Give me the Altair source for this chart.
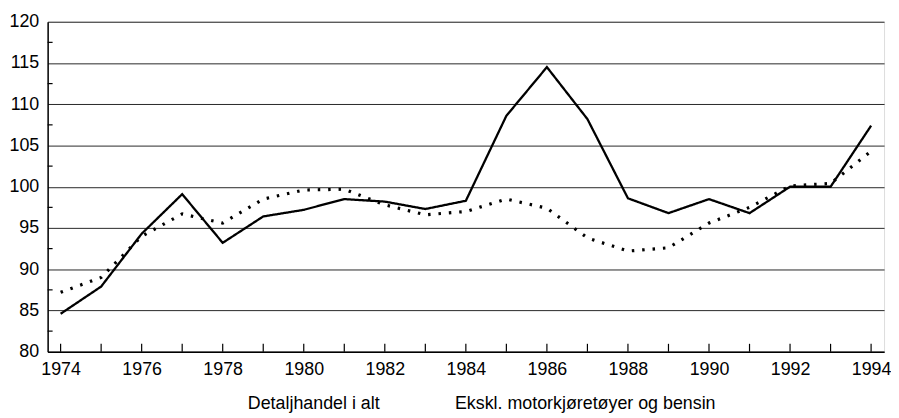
import altair as alt
import pandas as pd

years = list(range(1974, 1995))
series_names = ["Detaljhandel i alt", "Ekskl. motorkjøretøyer og bensin"]
total = [84.6, 87.9, 94.3, 99.1, 93.2, 96.4, 97.2, 98.5, 98.2, 97.3, 98.3,
         108.6, 114.5, 108.2, 98.6, 96.8, 98.5, 96.8, 100.0, 100.0, 107.4]
excl = [87.2, 89.0, 94.0, 96.7, 95.6, 98.5, 99.6, 99.7, 97.8, 96.6, 97.0,
        98.5, 97.4, 93.8, 92.2, 92.6, 95.6, 97.5, 100.1, 100.4, 104.3]
y_major = [80, 85, 90, 95, 100, 105, 110, 115, 120]
y_minor = [82.5, 87.5, 92.5, 97.5, 102.5, 107.5, 112.5, 117.5]
x_labels = list(range(1974, 1995, 2))

df = pd.DataFrame({
    "year": years * 2,
    "value": total + excl,
    "series": [series_names[0]] * len(years) + [series_names[1]] * len(years),
})

FONT = "Liberation Sans Narrow, Liberation Sans, Arial, sans-serif"
FS = 18
xscale = alt.Scale(domain=[1973.68, 1994.32], nice=False, zero=False)
yscale = alt.Scale(domain=[80, 120], nice=False, zero=False)

lines = alt.Chart(df).mark_line(color="black", strokeCap="butt").encode(
    x=alt.X("year:Q", scale=xscale, title=None,
            axis=alt.Axis(values=x_labels, format="d", tickSize=0, labelPadding=9,
                          labelFontSize=FS, labelFont=FONT, labelColor="black",
                          domainColor="black", domainWidth=1.5, grid=False)),
    y=alt.Y("value:Q", scale=yscale, title=None,
            axis=alt.Axis(values=y_major, tickSize=0, labelPadding=9,
                          labelFontSize=FS, labelFont=FONT, labelColor="black",
                          domainColor="black", domainWidth=1.5, grid=True,
                          gridColor="black", gridWidth=1, gridOpacity=0.85)),
    strokeDash=alt.StrokeDash("series:N",
                              scale=alt.Scale(domain=series_names, range=[[1, 0], [2.5, 8]]),
                              legend=alt.Legend(title=None, orient="none", direction="horizontal",
                                                legendX=180, legendY=377, labelFontSize=FS,
                                                labelFont=FONT, labelColor="black",
                                                labelLimit=500,
                                                symbolOpacity=0, symbolSize=0,
                                                symbolStrokeWidth=0, columnPadding=53,
                                                labelOffset=4)),
    strokeWidth=alt.StrokeWidth("series:N",
                                scale=alt.Scale(domain=series_names, range=[2.3, 3.2]),
                                legend=None),
)

xt = alt.Chart(pd.DataFrame({"year": years})).mark_rule(color="black", strokeWidth=1.2).encode(
    x=alt.X("year:Q", scale=xscale),
    y=alt.value(333), y2=alt.value(325),
)
yt = alt.Chart(pd.DataFrame({"v": y_minor})).mark_rule(color="black", strokeWidth=1.2).encode(
    y=alt.Y("v:Q", scale=yscale),
    x=alt.value(0), x2=alt.value(5),
)

chart = alt.layer(lines, xt, yt).properties(
    width=844, height=333, autosize="none",
    padding={"left": 40, "top": 12, "right": 7, "bottom": 65},
).configure_view(stroke="black", strokeWidth=1.2).configure(background="white")

chart.save("out.html", embed_options={"renderer": "svg", "actions": False})
